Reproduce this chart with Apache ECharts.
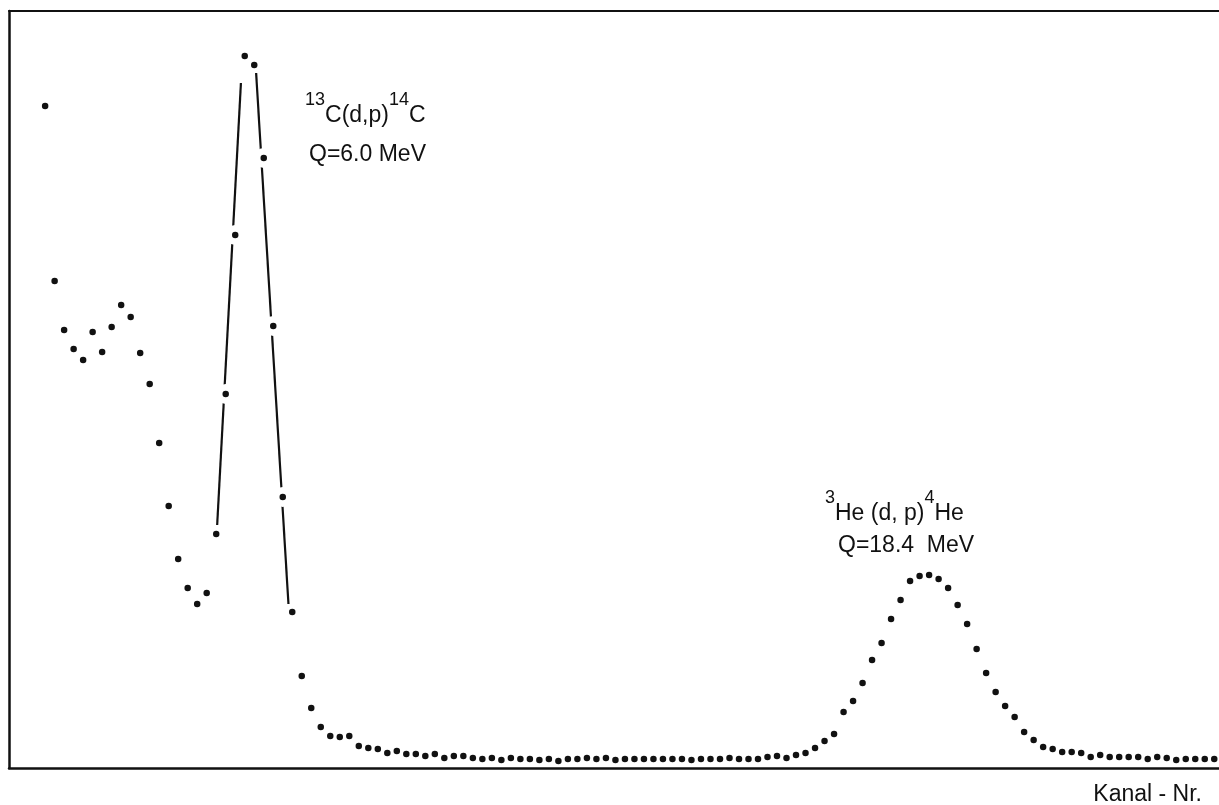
<!DOCTYPE html>
<html>
<head>
<meta charset="utf-8">
<title>Spektrum</title>
<script src="https://cdn.jsdelivr.net/npm/echarts@6.0.0/dist/echarts.min.js"></script>
<style>
  html, body { margin: 0; padding: 0; background: #fff; }
  #chart { width: 1219px; height: 805px; }
</style>
</head>
<body>
<div id="chart"></div>
<script>
// Impulse pro Kanal (Kanal 0 .. 123)
const counts = [
  662, 487, 438, 419, 408, 436, 416, 441, 463, 451,
  415, 384, 325, 262, 209, 180, 164, 175, 234, 374,
  533, 712, 703, 610, 442, 271, 156, 92, 60, 41,
  32, 31, 32, 22, 20, 19, 15, 17, 14, 14,
  12, 14, 10, 12, 12, 10, 9, 10, 8, 10,
  9, 9, 8, 9, 7, 9, 9, 10, 9, 10,
  8, 9, 9, 9, 9, 9, 9, 9, 8, 9,
  9, 9, 10, 9, 9, 9, 11, 12, 10, 13,
  15, 20, 27, 34, 56, 67, 85, 108, 125, 149,
  168, 187, 192, 193, 189, 180, 163, 144, 119, 95,
  76, 62, 51, 36, 28, 21, 19, 16, 16, 15,
  11, 13, 11, 11, 11, 11, 9, 11, 10, 8,
  9, 9, 9, 9
]

// von Hand eingezeichnete Flanken des 13C-Peaks [Kanal, Impulse]
const fitLeft = [[18.1, 243], [20.6, 685]]
const fitRight = [[22.2, 695], [25.6, 164]]
// Punkte, an denen die Linie unterbrochen ist
const gapChannels = [19, 20, 23, 24, 25]

const xMin = -3.8
const xMax = 123.5
const yMax = 757

const font = '"Liberation Sans", Arial, sans-serif'

const points = counts.map((v, i) => [i, v])
const gapPoints = gapChannels.map(c => [c, counts[c]])

function formula(x, y, text) {
  return {
    type: 'text',
    x: x,
    y: y,
    silent: true,
    style: {
      text: text,
      verticalAlign: 'top',
      fill: '#111',
      rich: {
        s: { fontFamily: font, fontSize: 18, lineHeight: 18, verticalAlign: 'top', fill: '#111' },
        b: { fontFamily: font, fontSize: 23, lineHeight: 50, verticalAlign: 'middle', fill: '#111' }
      }
    }
  }
}

function plain(x, y, text, align) {
  return {
    type: 'text',
    x: x,
    y: y,
    silent: true,
    style: {
      text: text,
      fontFamily: font,
      fontSize: 23,
      fill: '#111',
      align: align || 'left',
      verticalAlign: 'middle'
    }
  }
}

const chart = echarts.init(document.getElementById('chart'))
chart.setOption({
  backgroundColor: '#fff',
  animation: false,
  grid: {
    left: 9,
    right: 0,
    top: 11,
    bottom: 37
  },
  xAxis: [{
    type: 'value',
    min: xMin,
    max: xMax,
    position: 'bottom',
    axisLine: { show: true, onZero: false, lineStyle: { color: '#111', width: 2.5 } },
    axisTick: { show: false },
    axisLabel: { show: false },
    splitLine: { show: false }
  }, {
    type: 'value',
    min: xMin,
    max: xMax,
    position: 'top',
    axisLine: { show: true, onZero: false, lineStyle: { color: '#111', width: 2 } },
    axisTick: { show: false },
    axisLabel: { show: false },
    splitLine: { show: false }
  }],
  yAxis: {
    type: 'value',
    min: 0,
    max: yMax,
    position: 'left',
    axisLine: { show: true, onZero: false, lineStyle: { color: '#111', width: 2.5 } },
    axisTick: { show: false },
    axisLabel: { show: false },
    splitLine: { show: false }
  },
  graphic: [
    formula(305, 90.7, '{s|13}{b|C(d,p)}{s|14}{b|C}'),
    plain(309, 154.3, 'Q=6.0 MeV'),
    formula(825, 488.7, '{s|3}{b|He (d, p)}{s|4}{b|He}'),
    plain(838, 545.8, 'Q=18.4  MeV'),
    plain(1202, 795, 'Kanal - Nr.', 'right')
  ],
  series: [
    {
      name: 'fitLeft',
      type: 'line',
      data: fitLeft,
      symbol: 'none',
      silent: true,
      z: 2,
      lineStyle: { color: '#111', width: 2.2 }
    },
    {
      name: 'fitRight',
      type: 'line',
      data: fitRight,
      symbol: 'none',
      silent: true,
      z: 2,
      lineStyle: { color: '#111', width: 2.2 }
    },
    {
      name: 'gaps',
      type: 'scatter',
      data: gapPoints,
      symbolSize: 20,
      silent: true,
      z: 3,
      itemStyle: { color: '#fff', opacity: 1 }
    },
    {
      name: 'Impulse',
      type: 'scatter',
      data: points,
      symbol: 'circle',
      symbolSize: 6.5,
      z: 4,
      itemStyle: { color: '#111', opacity: 1 }
    }
  ]
})
</script>
</body>
</html>
